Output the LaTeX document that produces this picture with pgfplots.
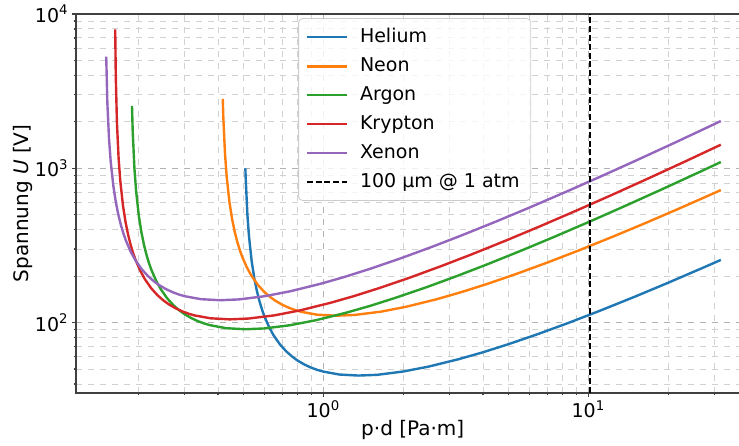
\documentclass[border=0pt]{standalone}
\usepackage{fontspec}
\setmainfont{DejaVu Sans}
\usepackage{pgfplots}
\pgfplotsset{compat=1.18}

\definecolor{cHe}{HTML}{1F77B4}
\definecolor{cNe}{HTML}{FF7F0E}
\definecolor{cAr}{HTML}{2CA02C}
\definecolor{cKr}{HTML}{D62728}
\definecolor{cXe}{HTML}{9467BD}
\newcommand\fs{\fontsize{9.5}{11.4}\selectfont}

\begin{document}
\begin{tikzpicture}
\begin{axis}[
  at={(38pt,26pt)}, anchor=south west,
  scale only axis, width=336.7pt, height=189.5pt,
  xmode=log, ymode=log,
  xmin=0.1165, xmax=40.5, ymin=35, ymax=10000,
  xtick={1,10}, xticklabels={10\textsuperscript{0},10\textsuperscript{1}},
  ytick={100,1000,10000},
  yticklabels={10\textsuperscript{2},10\textsuperscript{3},10\textsuperscript{4}},
  minor xtick={0.2,0.3,0.4,0.5,0.6,0.7,0.8,0.9,2,3,4,5,6,7,8,9,20,30,40},
  minor ytick={40,50,60,70,80,90,200,300,400,500,600,700,800,900,2000,3000,4000,5000,6000,7000,8000,9000},
  grid=both,
  major grid style={dashed, black!30, line width=0.5pt},
  minor grid style={dashed, black!18, line width=0.45pt},
  tick align=outside, tick pos=left,
  major tick length=2pt, minor tick length=1.2pt,
  axis line style={black!75, line width=0.8pt},
  every tick/.style={black!75, line width=0.6pt},
  tick label style={font=\fs},
  xticklabel style={inner ysep=1.5pt},
  yticklabel style={inner xsep=1.5pt},
  label style={font=\fs},
  xlabel={p·d [Pa·m]},
  ylabel={Spannung \textit{U} [V]},
  every axis x label/.style={at={(axis description cs:0.5,-0.098)}, anchor=center},
  every axis y label/.style={at={(axis description cs:-0.079,0.5)}, rotate=90, anchor=center},
  legend style={at={(axis description cs:0.330,0.989)}, anchor=north west,
    draw=black!20, rounded corners=2pt, fill=white, fill opacity=0.8, text opacity=1,
    font=\fs, row sep=2pt, inner xsep=3.5pt, inner ysep=3pt},
  legend cell align=left,
  legend image code/.code={\draw[#1] (0pt,0pt) -- (20pt,0pt); \path (24pt,0pt);},
  no markers,
]
% Helium
\addplot[cHe, line width=1.2pt] coordinates {
(0.5075,1000) (0.509,860) (0.5165,502.5) (0.524,359.4) (0.5364,248.2)
(0.5489,192.7) (0.5614,159.5) (0.5739,137.4) (0.5863,121.7) (0.5988,109.9)
(0.6238,93.6) (0.6487,82.7) (0.6861,72.1) (0.7236,65.2) (0.761,60.4)
(0.7984,56.8) (0.8483,53.5) (0.8982,51.1) (0.9481,49.4) (0.998,48.2)
(1.1477,46.1) (1.3563,45.4)
(1.5968,45.9) (1.996,48.2) (2.495,51.9) (3.2435,58.0) (3.992,64.2)
(4.99,72.5) (6.487,84.6) (8.483,100.2) (10.978,118.9) (14.97,147.3)
(19.96,181.1) (27.445,229.2) (31.6,255)};
\addlegendentry{Helium}
% Neon
\addplot[cNe, line width=1.2pt] coordinates {
(0.4170,2814) (0.4192,2101) (0.4254,1227.7) (0.4316,878.0) (0.4418,606.3)
(0.4521,470.8) (0.4624,389.7) (0.4727,335.7) (0.4829,297.3) (0.4932,268.5)
(0.5138,228.6) (0.5343,202.2) (0.5651,176.2) (0.5960,159.2) (0.6268,147.5)
(0.6576,138.9) (0.6987,130.7) (0.7398,124.9) (0.7809,120.8) (0.822,117.7)
(0.9453,112.6) (1.1171,110.9)
(1.3152,112.2) (1.644,117.7) (2.055,126.8) (2.6715,141.7) (3.288,157.0)
(4.11,177.2) (5.343,206.8) (6.987,244.8) (9.042,290.4) (12.33,359.9)
(16.44,442.4) (22.605,560.0) (31.6,722.5)};
\addlegendentry{Neon}
% Argon
\addplot[cAr, line width=1.2pt] coordinates {
(0.1895,2535) (0.19074,1716.5) (0.19355,1002.9) (0.19635,717.3) (0.2010,495.3)
(0.2057,384.6) (0.2104,318.3) (0.21505,274.2) (0.2197,242.8) (0.2244,219.4)
(0.2338,186.7) (0.2431,165.2) (0.2571,143.9) (0.2712,130.1) (0.2852,120.5)
(0.2992,113.5) (0.3179,106.8) (0.3366,102.1) (0.3553,98.7) (0.374,96.2)
(0.4301,92.0) (0.5083,90.6)
(0.5984,91.7) (0.748,96.2) (0.935,103.6) (1.2155,115.8) (1.496,128.2)
(1.87,144.8) (2.431,168.9) (3.179,200.0) (4.114,237.2) (5.61,294.0)
(7.48,361.4) (10.285,457.5) (14.025,579.0) (18.7,723.8) (26.18,944.2)
(31.6,1098)};
\addlegendentry{Argon}
% Krypton
\addplot[cKr, line width=1.2pt] coordinates {
(0.1638,7960) (0.16463,3921) (0.16626,1989) (0.1687,1162.4) (0.17115,831.3)
(0.17523,574.0) (0.1793,445.8) (0.1834,369.0) (0.18745,317.8) (0.1915,281.5)
(0.1956,254.3) (0.2038,216.4) (0.2119,191.4) (0.2241,166.8) (0.23635,150.7)
(0.2486,139.6) (0.2608,131.5) (0.2771,123.8) (0.2934,118.3) (0.3097,114.3)
(0.326,111.4) (0.3749,106.7)
(0.443,105.0) (0.5216,106.3) (0.652,111.4) (0.815,120.0) (1.0595,134.2)
(1.304,148.6) (1.63,167.8) (2.119,195.8) (2.771,231.8) (3.586,274.9)
(4.89,340.7) (6.52,418.9) (8.965,530.2) (12.225,671.0) (16.3,838.8)
(22.82,1094) (31.6,1422)};
\addlegendentry{Krypton}
% Xenon
\addplot[cXe, line width=1.2pt] coordinates {
(0.1515,5286) (0.153,2647) (0.15525,1546.6) (0.1575,1106.1) (0.16125,763.8)
(0.165,593.2) (0.16875,490.9) (0.1725,422.9) (0.17625,374.5) (0.18,338.3)
(0.1875,287.9) (0.195,254.7) (0.20625,221.9) (0.2175,200.6) (0.22875,185.8)
(0.24,175.0) (0.255,164.7) (0.27,157.4) (0.285,152.1) (0.3,148.3)
(0.345,141.9) (0.4077,139.7)
(0.48,141.4) (0.6,148.3) (0.75,159.7) (0.975,178.5) (1.2,197.7)
(1.5,223.2) (1.95,260.5) (2.55,308.4) (3.3,365.8) (4.5,453.3)
(6.0,557.3) (8.25,705.5) (11.25,892.9) (15.0,1116) (21.0,1456)
(31.6,2024)};
\addlegendentry{Xenon}
% gap of 100 um at atmospheric pressure
\addplot[black, line width=1pt, dash pattern=on 3pt off 1.4pt] coordinates {(10.13,35) (10.13,10000)};
\addlegendentry{100 µm @ 1 atm}
\end{axis}
\pgfresetboundingbox
\path[use as bounding box] (0pt,0pt) rectangle (369.5pt,222.5pt);
\end{tikzpicture}
\end{document}
